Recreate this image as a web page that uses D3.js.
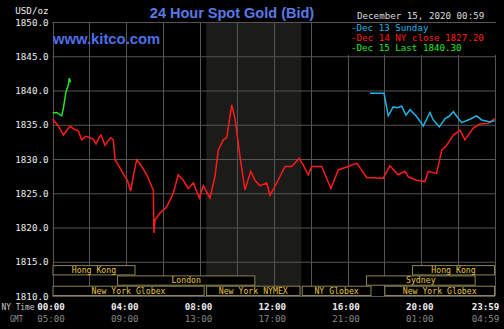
<!DOCTYPE html>
<html>
<head>
<meta charset="utf-8">
<script src="https://cdn.jsdelivr.net/npm/d3@7"></script>
<style>
  body { margin: 0; background: #000; }
  svg { display: block; }
</style>
</head>
<body>
<div id="my_dataviz"></div>
<script>
// [hour in NY time, price]
const dec13 = [
  [17.22, 1839.6], [17.98, 1839.6], [18.21, 1836.3], [18.48, 1837.6], [18.70, 1837.5],
  [18.94, 1837.7], [19.17, 1836.4], [19.39, 1837.2], [19.75, 1836.2], [20.11, 1834.8],
  [20.47, 1836.8], [20.65, 1835.7], [20.98, 1834.7], [21.29, 1835.9], [21.50, 1836.2],
  [21.74, 1836.9], [22.19, 1835.3], [22.64, 1835.8], [23.00, 1836.3], [23.28, 1835.7],
  [23.73, 1835.4], [23.98, 1835.6]
]
const dec14 = [
  [0.00, 1835.8], [0.30, 1834.9], [0.59, 1833.5], [0.95, 1834.8], [1.20, 1834.3],
  [1.40, 1834.1], [1.58, 1832.8], [1.80, 1833.3], [2.03, 1833.1], [2.20, 1832.9],
  [2.36, 1832.2], [2.50, 1833.0], [2.63, 1833.5], [2.85, 1832.0], [3.00, 1832.6],
  [3.16, 1833.1], [3.30, 1832.8], [3.39, 1829.9], [3.66, 1828.7], [3.93, 1827.4],
  [4.06, 1826.9], [4.24, 1825.3], [4.40, 1827.8], [4.57, 1829.9], [4.84, 1828.9],
  [5.11, 1827.7], [5.38, 1826.0], [5.47, 1825.5], [5.50, 1819.2], [5.56, 1821.1],
  [5.83, 1822.1], [6.19, 1823.0], [6.55, 1825.0], [6.82, 1827.7], [7.09, 1826.9],
  [7.36, 1825.7], [7.64, 1826.5], [7.96, 1824.3], [8.18, 1826.1], [8.54, 1824.3],
  [8.81, 1827.4], [8.99, 1831.3], [9.26, 1832.8], [9.45, 1833.1], [9.72, 1837.9],
  [9.90, 1835.9], [10.17, 1830.3], [10.44, 1825.5], [10.75, 1828.2], [10.98, 1826.9],
  [11.25, 1826.1], [11.62, 1826.5], [11.80, 1824.7], [12.16, 1826.5], [12.61, 1828.9],
  [12.97, 1828.9], [13.15, 1829.4], [13.38, 1830.1], [13.60, 1829.1], [13.87, 1827.7],
  [14.06, 1828.9], [14.60, 1828.9], [15.10, 1825.7], [15.50, 1828.4], [16.04, 1828.9],
  [16.50, 1829.4], [17.04, 1827.3], [17.94, 1827.2], [18.30, 1829.0], [18.75, 1827.7],
  [19.12, 1828.2], [19.30, 1827.4], [19.75, 1826.9], [20.20, 1826.7], [20.38, 1828.2],
  [20.83, 1827.9], [21.11, 1831.3], [21.38, 1832.0], [21.74, 1833.5], [22.10, 1834.2],
  [22.37, 1832.8], [22.82, 1834.5], [23.18, 1835.1], [23.63, 1835.2], [23.98, 1835.9]
]
const dec15 = [
  [0.01, 1836.7], [0.23, 1836.8], [0.50, 1836.3], [0.59, 1837.4], [0.73, 1839.8],
  [0.86, 1840.8], [0.91, 1841.8], [0.98, 1841.2]
]

const price_ticks = [1810, 1815, 1820, 1825, 1830, 1835, 1840, 1845, 1850]
const ny_ticks = [0, 4, 8, 12, 16, 20, 23.983]
const ny_labels = ["00:00", "04:00", "08:00", "12:00", "16:00", "20:00", "23:59"]
const gmt_labels = ["05:00", "09:00", "13:00", "17:00", "21:00", "01:00", "04:59"]

// name, start hour, end hour, row (0 = top)
const sessions = [
  ["Hong Kong", 0, 4.5, 0],
  ["London", 3.5, 11, 1],
  ["New York Globex", 0, 8.25, 2],
  ["New York NYMEX", 8.33, 13.45, 2],
  ["NY Globex", 13.52, 17.3, 2],
  ["Sydney", 17, 22.95, 1],
  ["Hong Kong", 19.5, 24, 0],
  ["New York Globex", 18, 24, 2]
]
const comex_hours = [8.33, 13.5]

const legend_title = "December 15, 2020 00:59"
const legend_items = [
  ["-Dec 13 Sunday", "#1eb4e6"],
  ["-Dec 14 NY close 1827.20", "#ff1a1a"],
  ["-Dec 15 Last 1840.30", "#22e622"]
]

const width = 504
const height = 329
const mono = "'DejaVu Sans Mono', monospace"

const x = d3.scaleLinear().domain([0, 24]).range([52.5, 495])
const y = d3.scaleLinear().domain([1810, 1850]).range([296, 22])

const svg = d3.select("#my_dataviz")
  .append("svg")
  .attr("width", width)
  .attr("height", height)

svg.append("rect")
  .attr("width", width)
  .attr("height", height)
  .attr("fill", "#000")

// COMEX shaded hours
svg.append("rect")
  .attr("x", x(comex_hours[0]))
  .attr("y", y(1850))
  .attr("width", x(comex_hours[1]) - x(comex_hours[0]))
  .attr("height", y(1810) - y(1850))
  .attr("fill", "#1b1b19")

// grid
svg.append("g")
  .selectAll("line")
  .data(price_ticks)
  .join("line")
  .attr("x1", x(0)).attr("x2", x(24))
  .attr("y1", d => y(d) + 0.5).attr("y2", d => y(d) + 0.5)
  .attr("stroke", "#555")

svg.append("g")
  .selectAll("line")
  .data(d3.range(0, 25, 2))
  .join("line")
  .attr("x1", d => Math.round(x(d)) + 0.5).attr("x2", d => Math.round(x(d)) + 0.5)
  .attr("y1", y(1850)).attr("y2", y(1810))
  .attr("stroke", "#555")

// session boxes
const row_h = 10.3
const sess = svg.append("g")
  .selectAll("g")
  .data(sessions)
  .join("g")
sess.append("rect")
  .attr("x", d => x(d[1]) + 0.5)
  .attr("y", d => y(1810) - (3 - d[3]) * row_h + 0.5)
  .attr("width", d => x(d[2]) - x(d[1]) - 1)
  .attr("height", row_h - 1)
  .attr("fill", "#000")
  .attr("stroke", "#8a8650")
sess.append("text")
  .attr("x", d => (x(d[1]) + x(d[2])) / 2)
  .attr("y", d => y(1810) - (3 - d[3]) * row_h + 8)
  .attr("text-anchor", "middle")
  .style("font-family", mono)
  .style("font-size", "8.2px")
  .attr("fill", "#e6c440")
  .text(d => d[0])

// price lines
const line = d3.line()
  .x(d => x(d[0]))
  .y(d => y(d[1]))

svg.append("path")
  .datum(dec14)
  .attr("d", line)
  .attr("fill", "none")
  .attr("stroke", "#ff1a1a")
  .attr("stroke-width", 1.5)

svg.append("path")
  .datum(dec13)
  .attr("d", line)
  .attr("fill", "none")
  .attr("stroke", "#1eb4e6")
  .attr("stroke-width", 1.5)

svg.append("path")
  .datum(dec15)
  .attr("d", line)
  .attr("fill", "none")
  .attr("stroke", "#22e622")
  .attr("stroke-width", 1.5)

// legend
svg.append("rect")
  .attr("x", 348)
  .attr("y", 23)
  .attr("width", width - 348)
  .attr("height", 32)
  .attr("fill", "#000")

svg.append("text")
  .attr("x", 357)
  .attr("y", 19)
  .style("font-family", mono)
  .style("font-size", "9.2px")
  .attr("fill", "#ddd")
  .text(legend_title)

svg.append("g")
  .selectAll("text")
  .data(legend_items)
  .join("text")
  .attr("x", 351)
  .attr("y", (d, i) => 30.5 + i * 10)
  .style("font-family", mono)
  .style("font-size", "9.2px")
  .attr("fill", d => d[1])
  .text(d => d[0])

// y axis labels
svg.append("g")
  .selectAll("text")
  .data(price_ticks)
  .join("text")
  .attr("x", 48.5)
  .attr("y", d => y(d) + 3.5)
  .attr("text-anchor", "end")
  .style("font-family", mono)
  .style("font-size", "9.2px")
  .attr("fill", "#eee")
  .text(d => d.toFixed(1))

svg.append("text")
  .attr("x", 48.5)
  .attr("y", 14)
  .attr("text-anchor", "end")
  .style("font-family", mono)
  .style("font-size", "9.2px")
  .attr("fill", "#eee")
  .text("USD/oz")

// x axis labels, last one kept inside the picture
const label_x = (d) => Math.min(x(d) - 1.5, width - 18.5)

svg.append("g")
  .selectAll("text")
  .data(ny_ticks)
  .join("text")
  .attr("x", label_x)
  .attr("y", 310)
  .attr("text-anchor", "middle")
  .style("font-family", mono)
  .style("font-size", "9.2px")
  .style("font-weight", "bold")
  .attr("fill", "#eee")
  .text((d, i) => ny_labels[i])

svg.append("g")
  .selectAll("text")
  .data(ny_ticks)
  .join("text")
  .attr("x", label_x)
  .attr("y", 322)
  .attr("text-anchor", "middle")
  .style("font-family", mono)
  .style("font-size", "9.2px")
  .attr("fill", "#888")
  .text((d, i) => gmt_labels[i])

svg.append("text")
  .attr("x", 1.5)
  .attr("y", 310)
  .attr("textLength", 33)
  .attr("lengthAdjust", "spacingAndGlyphs")
  .style("font-family", mono)
  .style("font-size", "9px")
  .attr("fill", "#ccc")
  .text("NY Time")

svg.append("text")
  .attr("x", 10)
  .attr("y", 322)
  .attr("textLength", 13)
  .attr("lengthAdjust", "spacingAndGlyphs")
  .style("font-family", mono)
  .style("font-size", "9px")
  .attr("fill", "#999")
  .text("GMT")

// titles
svg.append("text")
  .attr("x", 232)
  .attr("y", 18)
  .attr("text-anchor", "middle")
  .style("font-family", "'Liberation Sans', Arial, sans-serif")
  .style("font-size", "14.5px")
  .style("font-weight", "bold")
  .attr("fill", "#5a78e8")
  .text("24 Hour Spot Gold (Bid)")

svg.append("text")
  .attr("x", 53)
  .attr("y", 44)
  .style("font-family", "'Liberation Sans', Arial, sans-serif")
  .style("font-size", "14.8px")
  .style("font-weight", "bold")
  .attr("fill", "#4f6ee6")
  .text("www.kitco.com")
</script>
</body>
</html>
